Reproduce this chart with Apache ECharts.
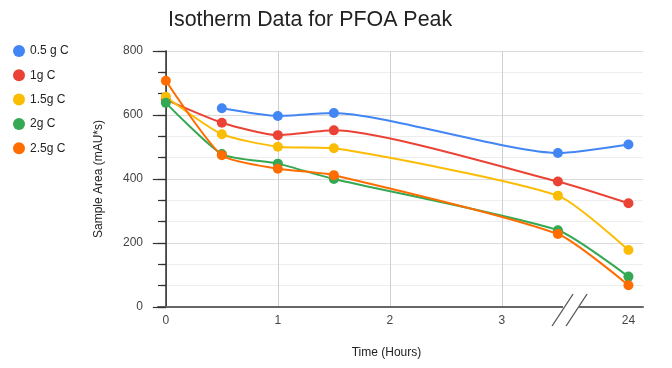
<!DOCTYPE html>
<html>
<head>
<meta charset="utf-8">
<script src="https://cdn.jsdelivr.net/npm/echarts@6/dist/echarts.min.js"></script>
<style>html,body{margin:0;padding:0;background:#fff}#c{width:672px;height:368px}</style>
</head>
<body>
<div id="c"></div>
<script>
const hours = [0, 0.5, 1, 1.5, 3.5, 24];
const seriesNames = ['0.5 g C', '1g C', '1.5g C', '2g C', '2.5g C'];
const c05 = [null, 621, 597, 606, 481, 508];
const c1 = [648, 576, 537, 552, 392, 324];
const c15 = [657, 540, 501, 496, 348, 178];
const c2 = [638, 478, 448, 400, 240, 95];
const c25 = [707, 474, 432, 412, 228, 68];
const xLabels = [0, 1, 2, 3, 24];
const xGridValues = [0, 1, 2, 3];
const colors = ['#4285F4', '#EA4335', '#FBBC04', '#34A853', '#FF6D01'];
const FONT = 'Liberation Sans, Arial, sans-serif';

const chart = echarts.init(document.getElementById('c'), null, {renderer: 'canvas'});
const allVals = [c05, c1, c15, c2, c25];
const series = allVals.map((vals, i) => ({
  name: seriesNames[i],
  type: 'line',
  smooth: 0.2,
  symbol: 'circle',
  symbolSize: 10,
  showSymbol: true,
  lineStyle: {width: 2, color: colors[i]},
  itemStyle: {color: colors[i]},
  data: hours.map((h, j) => [h, vals[j]]).filter(d => d[1] !== null),
  z: 3 + i
}));

chart.setOption({
  animation: false,
  textStyle: {fontFamily: FONT},
  title: {
    text: 'Isotherm Data for PFOA Peak',
    left: 163, top: 5,
    textStyle: {fontFamily: FONT, fontSize: 21.4, fontWeight: 'normal', color: '#222'}
  },
  legend: {
    orient: 'vertical', left: 8, top: 40,
    icon: 'circle', itemWidth: 12, itemHeight: 12, itemGap: 12.3,
    textStyle: {fontFamily: FONT, fontSize: 12, color: '#222'},
    data: seriesNames
  },
  grid: {left: 158, right: 29, top: 51, bottom: 61, containLabel: false},
  xAxis: {
    type: 'value',
    min: -0.07, max: 24.13,
    breaks: [{start: 3.6, end: 23.9, gap: 0.43}],
    breakArea: {show: false},
    name: 'Time (Hours)',
    nameLocation: 'middle', nameGap: 40,
    nameTextStyle: {fontFamily: FONT, fontSize: 12, color: '#222', padding: [0, 28, 0, 0]},
    axisLine: {show: true, lineStyle: {color: '#666', width: 2}},
    axisTick: {show: false, customValues: xGridValues},
    axisLabel: {customValues: xLabels, fontFamily: FONT, fontSize: 12, color: '#444', margin: 8},
    splitLine: {show: true, lineStyle: {color: '#cfcfcf', width: 1}}
  },
  yAxis: [{
    type: 'value', position: 'left',
    min: 0, max: 800, interval: 200,
    name: 'Sample Area (mAU*s)',
    nameLocation: 'middle', nameGap: 53,
    nameTextStyle: {fontFamily: FONT, fontSize: 12, color: '#222'},
    axisLine: {show: true, lineStyle: {color: '#333', width: 1.5}},
    axisTick: {show: true, length: 13, lineStyle: {color: '#333', width: 1.2}},
    minorTick: {show: true, splitNumber: 3, length: 5, lineStyle: {color: '#333', width: 1.2}},
    axisLabel: {fontFamily: FONT, fontSize: 12, color: '#444', margin: 15},
    splitLine: {show: true, lineStyle: {color: '#dcdcdc'}},
    minorSplitLine: {show: true, lineStyle: {color: '#eeeeee'}}
  }, {
    type: 'value', position: 'left', offset: -8,
    min: 0, max: 800, interval: 200,
    axisLine: {show: true, lineStyle: {color: '#444', width: 1}},
    axisTick: {show: true, length: 8, lineStyle: {color: '#333', width: 1.2}},
    minorTick: {show: true, splitNumber: 3, length: 8, lineStyle: {color: '#333', width: 1.2}},
    axisLabel: {show: false},
    splitLine: {show: false}
  }],
  series: series
});

// axis break marker (double slash) at the break start; axis line continued across the break
const b = chart.convertToPixel({xAxisIndex: 0, yAxisIndex: 0}, [3.6, 0]);
const e = chart.convertToPixel({xAxisIndex: 0, yAxisIndex: 0}, [23.9, 0]);
const bx = b[0], by = b[1], ex = e[0];
chart.setOption({
  graphic: [
    {type: 'line', shape: {x1: bx - 8, y1: by, x2: ex + 1, y2: by}, style: {stroke: '#666', lineWidth: 2}, z: 99},
    {type: 'rect', shape: {x: bx - 6, y: by - 3, width: 16, height: 6}, style: {fill: '#fff'}, z: 100},
    {type: 'line', shape: {x1: bx - 17, y1: by + 19, x2: bx + 4, y2: by - 13}, style: {stroke: '#555', lineWidth: 1.3}, z: 101},
    {type: 'line', shape: {x1: bx - 3, y1: by + 19, x2: bx + 18, y2: by - 13}, style: {stroke: '#555', lineWidth: 1.3}, z: 101}
  ]
});
</script>
</body>
</html>
